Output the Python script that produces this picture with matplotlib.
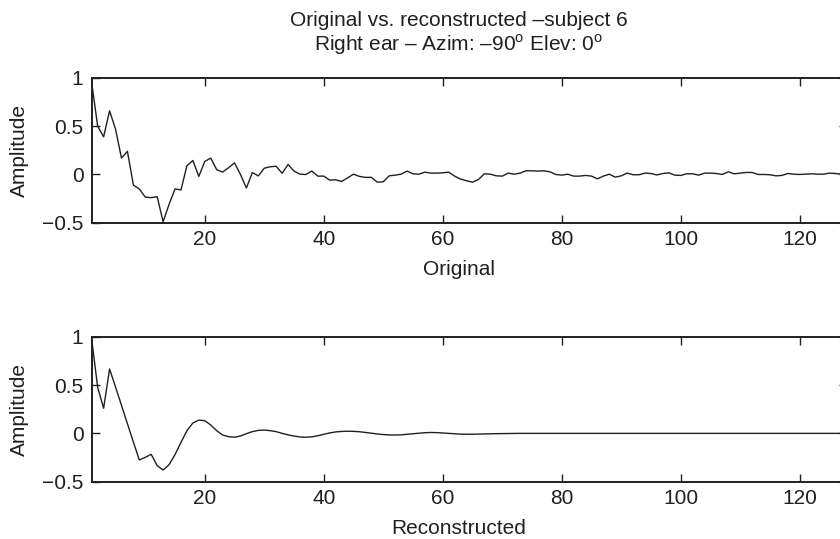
import numpy as np
import matplotlib
matplotlib.use("Agg")
import matplotlib.pyplot as plt

# impulse response samples (1..128)
samples = np.arange(1, 129)

original = [
    0.95, 0.50, 0.39, 0.66, 0.47, 0.17, 0.24, -0.11, -0.15, -0.235,
    -0.24, -0.23, -0.49, -0.31, -0.15, -0.16, 0.09, 0.145, -0.02, 0.135,
    0.17, 0.05, 0.025, 0.07, 0.12, 0.0, -0.14, 0.02, -0.015, 0.065,
    0.08, 0.085, 0.012, 0.104, 0.035, 0.003, 0.0, 0.035, -0.017, -0.017,
    -0.059, -0.055, -0.073, -0.035, 0.003, -0.02, -0.03, -0.03, -0.08, -0.076,
    -0.014, -0.007, 0.003, 0.035, 0.007, 0.003, 0.024, 0.014, 0.014, 0.017,
    0.024, -0.017, -0.048, -0.065, -0.08, -0.052, 0.007, 0.003, -0.014, -0.017,
    0.014, 0.003, 0.014, 0.038, 0.038, 0.035, 0.038, 0.028, 0.0, -0.007,
    0.003, -0.017, -0.017, -0.01, -0.017, -0.045, -0.017, 0.003, -0.028, -0.014,
    0.014, -0.003, -0.003, 0.014, 0.01, -0.005, 0.01, 0.017, -0.007, -0.01,
    0.007, 0.007, -0.007, 0.014, 0.014, 0.01, 0.0, 0.028, 0.007, 0.014,
    0.021, 0.021, 0.0, 0.0, -0.003, -0.014, -0.01, 0.01, 0.003, 0.0,
    0.003, 0.007, 0.003, 0.003, 0.014, 0.01, 0.003, 0.0,
]

reconstructed = [
    0.97, 0.476, 0.26, 0.666, 0.48, 0.29, 0.10, -0.09, -0.275, -0.248,
    -0.217, -0.334, -0.379, -0.324, -0.22, -0.093, 0.028, 0.107, 0.138, 0.131,
    0.087, 0.028, -0.017, -0.034, -0.04, -0.027, -0.003, 0.018, 0.031, 0.034,
    0.028, 0.018, 0.0, -0.015, -0.028, -0.037, -0.04, -0.036, -0.025, -0.01,
    0.005, 0.015, 0.02, 0.022, 0.021, 0.017, 0.01, 0.002, -0.006, -0.012,
    -0.016, -0.017, -0.015, -0.01, -0.004, 0.002, 0.007, 0.009, 0.008, 0.004,
    -0.001, -0.005, -0.008, -0.009, -0.009, -0.008, -0.006, -0.004, -0.003, -0.002,
    -0.001, 0.0, 0.0, 0.0, 0.0, 0.0, 0.0, 0.0, 0.0, 0.0,
    0.0, 0.0, 0.0, 0.0, 0.0, 0.0, 0.0, 0.0, 0.0, 0.0,
    0.0, 0.0, 0.0, 0.0, 0.0, 0.0, 0.0, 0.0, 0.0, 0.0,
    0.0, 0.0, 0.0, 0.0, 0.0, 0.0, 0.0, 0.0, 0.0, 0.0,
    0.0, 0.0, 0.0, 0.0, 0.0, 0.0, 0.0, 0.0, 0.0, 0.0,
    0.0, 0.0, 0.0, 0.0, 0.0, 0.0, 0.0, 0.0,
]

x_ticks = [20, 40, 60, 80, 100, 120]
y_ticks = [-0.5, 0, 0.5, 1]
y_ticklabels = ["\u22120.5", "0", "0.5", "1"]

ink = "#231f20"
plt.rcParams["font.family"] = ["Liberation Sans", "DejaVu Sans"]
plt.rcParams["mathtext.fontset"] = "custom"
plt.rcParams["mathtext.rm"] = "Liberation Sans"
plt.rcParams["font.size"] = 15
plt.rcParams["text.color"] = ink

fig = plt.figure(figsize=(8.4, 5.39), dpi=100)
ax1 = fig.add_axes([0.1092, 0.5868, 0.8995, 0.2685])
ax2 = fig.add_axes([0.1092, 0.1063, 0.8995, 0.2690])

for ax, series, label in [(ax1, original, "Original"), (ax2, reconstructed, "Reconstructed")]:
    ax.plot(samples, series, color=ink, linewidth=1.0)
    ax.set_xlim(1, 128)
    ax.set_ylim(-0.5, 1)
    ax.set_xticks(x_ticks)
    ax.set_yticks(y_ticks)
    ax.set_yticklabels(y_ticklabels)
    ax.tick_params(direction="in", length=5.8, width=1.0, color=ink,
                   labelcolor=ink, top=True, right=True, pad=5)
    ax.tick_params(axis="y", pad=6)
    for sp in ax.spines.values():
        sp.set_linewidth(1.4)
        sp.set_color(ink)
    ax.set_ylabel("Amplitude", color=ink)
    ax.yaxis.set_label_coords(-0.083, 0.5)
    ax.set_xlabel(label, color=ink)
    ax.xaxis.set_label_coords(0.486, -0.255)

fig.text(0.5464, 1 - 11 / 539,
         "Original vs. reconstructed \u2013subject 6\n"
         "Right ear \u2013 Azim: \u201390$^\\mathrm{o}$ Elev: 0$^\\mathrm{o}$",
         ha="center", va="top", color=ink, linespacing=1.15)

fig.savefig("out.png", dpi=100)
